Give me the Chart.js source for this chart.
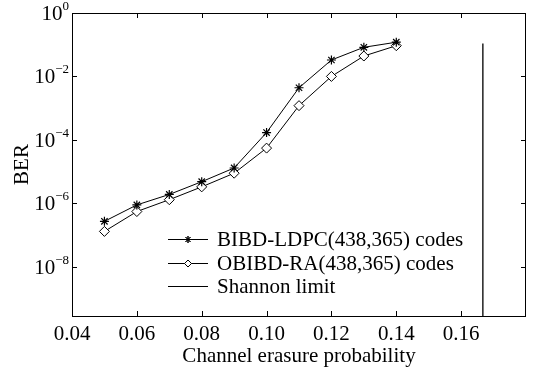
<!DOCTYPE html>
<html>
<head>
<meta charset="utf-8">
<script src="https://cdn.jsdelivr.net/npm/chart.js@4/dist/chart.umd.min.js"></script>
<style>
  html, body { margin: 0; padding: 0; background: #fff; }
  #wrap { width: 539px; height: 369px; position: relative; }
</style>
</head>
<body>
<div id="wrap"><canvas id="myChart" width="539" height="369"></canvas></div>
<script>
const erasure = [0.05, 0.06, 0.07, 0.08, 0.09, 0.10, 0.11, 0.12, 0.13, 0.14];
const bibdLdpc = [2.7e-7, 8.9e-7, 1.9e-6, 4.8e-6, 1.3e-5, 1.7e-4, 4.4e-3, 0.033, 0.083, 0.12];
const obibdRa = [1.3e-7, 5.5e-7, 1.3e-6, 3.3e-6, 8.9e-6, 5.5e-5, 1.2e-3, 0.01, 0.044, 0.093];
const shannonX = [0.1667, 0.1667];
const shannonY = [0.11, 2.8e-10];
const xTicks = [0.04, 0.06, 0.08, 0.10, 0.12, 0.14, 0.16];
const yExps = [0, -2, -4, -6, -8];
const seriesLabels = ["BIBD-LDPC(438,365) codes", "OBIBD-RA(438,365) codes", "Shannon limit"];

const serif = "'Liberation Serif', 'Times New Roman', serif";

function toPoints(xs, ys) {
  return xs.map((x, i) => ({ x: x, y: ys[i] }));
}

// box, inward ticks, y labels with superscripts, inner legend
const framePlugin = {
  id: "frame",
  afterDraw(chart) {
    const ctx = chart.ctx;
    const a = chart.chartArea;
    const xs = chart.scales.x;
    const ys = chart.scales.y;
    ctx.save();
    ctx.strokeStyle = "#000";
    ctx.lineWidth = 1;
    ctx.strokeRect(a.left + 0.5, a.top + 0.5, a.right - a.left - 1, a.bottom - a.top);
    ctx.beginPath();
    xTicks.forEach((v) => {
      const px = Math.round(xs.getPixelForValue(v)) + 0.5;
      ctx.moveTo(px, a.bottom); ctx.lineTo(px, a.bottom - 5);
      ctx.moveTo(px, a.top); ctx.lineTo(px, a.top + 5);
    });
    yExps.forEach((e) => {
      const py = Math.round(ys.getPixelForValue(Math.pow(10, e))) + 0.5;
      ctx.moveTo(a.left, py); ctx.lineTo(a.left + 5, py);
      ctx.moveTo(a.right, py); ctx.lineTo(a.right - 5, py);
    });
    ctx.stroke();

    // y tick labels 10^e
    ctx.fillStyle = "#000";
    ctx.textBaseline = "alphabetic";
    yExps.forEach((e) => {
      const py = ys.getPixelForValue(Math.pow(10, e));
      const sup = e === 0 ? "0" : "\u2212" + (-e);
      ctx.font = "13px " + serif;
      const sw = ctx.measureText(sup).width;
      ctx.font = "21px " + serif;
      const bw = ctx.measureText("10").width;
      const right = a.left - 3;
      ctx.fillText("10", right - sw - bw, py + 7);
      ctx.font = "13px " + serif;
      ctx.fillText(sup, right - sw, py - 3);
    });

    // legend inside plot
    const rows = [239, 263, 286];
    const lx0 = 168, lx1 = 208, tx = 217;
    chart.data.datasets.forEach((ds, i) => {
      const y = rows[i] + 0.5;
      ctx.beginPath();
      ctx.moveTo(lx0, y); ctx.lineTo(lx1, y);
      ctx.strokeStyle = "#000";
      ctx.lineWidth = 1;
      ctx.stroke();
      if (ds.pointStyle && ds.pointRadius > 0) {
        Chart.helpers.drawPoint(ctx, {
          pointStyle: ds.pointStyle, radius: 3.5, borderWidth: 1, rotation: 0
        }, (lx0 + lx1) / 2, y);
        ctx.fillStyle = "#fff";
        ctx.strokeStyle = "#000";
        if (ds.pointStyle === "rectRot") { ctx.fill(); }
        ctx.stroke();
      }
      ctx.fillStyle = "#000";
      ctx.font = "21px " + serif;
      ctx.textBaseline = "middle";
      ctx.fillText(ds.label, tx, y + 1);
    });
    ctx.restore();
  }
};

document.addEventListener("DOMContentLoaded", function () {
  const ctx = document.getElementById("myChart").getContext("2d");
  const myChart = new Chart(ctx, {
    type: "line",
    data: {
      datasets: [
        {
          label: seriesLabels[0],
          data: toPoints(erasure, bibdLdpc),
          borderColor: "#000",
          borderWidth: 1,
          pointStyle: "star",
          pointRadius: 4.5,
          pointBorderColor: "#000",
          pointBorderWidth: 1.2,
          pointBackgroundColor: "#000",
          tension: 0,
        },
        {
          label: seriesLabels[1],
          data: toPoints(erasure, obibdRa),
          borderColor: "#000",
          borderWidth: 1,
          pointStyle: "rectRot",
          pointRadius: 5,
          pointBorderColor: "#000",
          pointBorderWidth: 1,
          pointBackgroundColor: "#fff",
          tension: 0,
        },
        {
          label: seriesLabels[2],
          data: toPoints(shannonX, shannonY),
          borderColor: "#000",
          borderWidth: 1.3,
          pointRadius: 0,
        },
      ],
    },
    options: {
      responsive: false,
      animation: false,
      layout: { padding: { top: 13, right: 13, left: 0, bottom: 0 } },
      plugins: {
        legend: { display: false },
        tooltip: { enabled: false },
      },
      scales: {
        x: {
          type: "linear",
          min: 0.04,
          max: 0.18,
          afterBuildTicks: (s) => { s.ticks = xTicks.map((v) => ({ value: v })); },
          afterFit: (s) => { s.height = 53; },
          grid: { display: false, drawTicks: false },
          border: { display: false },
          ticks: {
            color: "#000",
            padding: 6,
            maxRotation: 0,
            font: { family: serif, size: 21 },
            callback: (v) => Number(v).toFixed(2),
          },
          title: {
            display: true,
            text: "Channel erasure probability",
            color: "#000",
            font: { family: serif, size: 21 },
            padding: { top: 0, bottom: 0 },
          },
        },
        y: {
          type: "logarithmic",
          min: 2.8e-10,
          max: 1,
          afterBuildTicks: (s) => { s.ticks = yExps.map((e) => ({ value: Math.pow(10, e) })); },
          afterFit: (s) => { s.width = 72; },
          grid: { display: false, drawTicks: false },
          border: { display: false },
          ticks: { display: false },
          title: {
            display: true,
            text: "BER",
            color: "#000",
            font: { family: serif, size: 21 },
            padding: { top: 10, bottom: 0 },
          },
        },
      },
    },
    plugins: [framePlugin],
  });
});
</script>
</body>
</html>
